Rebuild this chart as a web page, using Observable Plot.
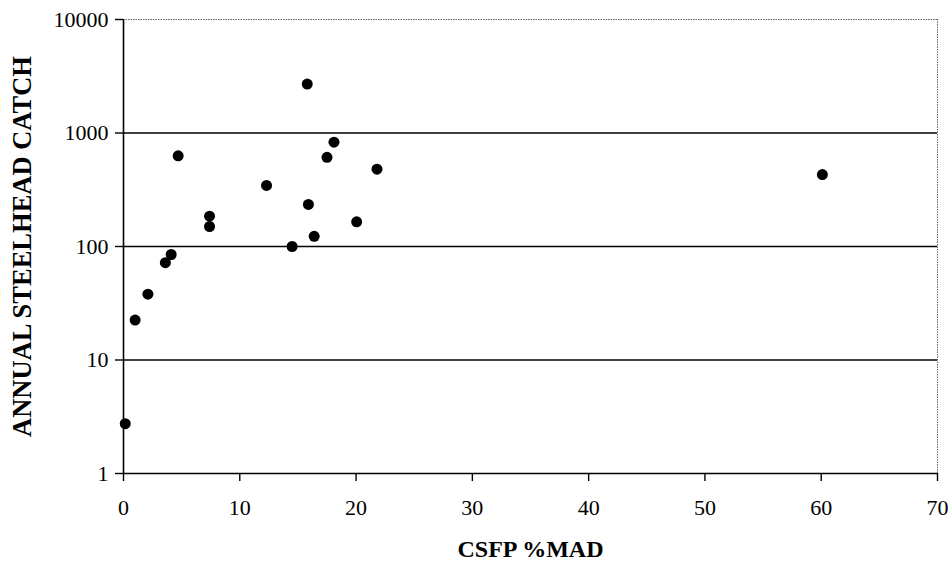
<!DOCTYPE html>
<html>
<head>
<meta charset="utf-8">
<script src="https://cdn.jsdelivr.net/npm/d3@7"></script>
<script src="https://cdn.jsdelivr.net/npm/@observablehq/plot@0.6"></script>
<style>
  html, body { margin: 0; padding: 0; background: #fff; }
  #chart svg { display: block; }
</style>
</head>
<body>
<div id="chart"></div>
<script>
// Data
const csfpMAD = [0.15, 1.0, 2.1, 3.6, 4.1, 4.7, 7.4, 7.4, 12.3, 14.5, 15.8, 15.9, 16.4, 17.5, 18.1, 20.05, 21.8, 60.1];
const steelheadCatch = [2.75, 22.5, 38, 72, 85, 630, 185, 150, 345, 100, 2700, 235, 123, 610, 830, 165, 480, 430];
const xTicks = [0, 10, 20, 30, 40, 50, 60, 70];
const yTicks = [1, 10, 100, 1000, 10000];
const gridValues = [10, 100, 1000];
const xTitle = "CSFP %MAD";
const yTitle = "ANNUAL STEELHEAD CATCH";

const data = csfpMAD.map((x, i) => ({x, y: steelheadCatch[i]}));

const font = "'Liberation Serif', 'DejaVu Serif', serif";

const chart = Plot.plot({
  width: 951,
  height: 570,
  marginTop: 19,
  marginBottom: 97,
  marginLeft: 123,
  marginRight: 14,
  style: {fontFamily: font, fontSize: "22px", color: "#000", background: "#fff"},
  x: {domain: [0, 70]},
  y: {type: "log", domain: [1, 10000]},
  marks: [
    Plot.ruleY(gridValues, {stroke: "#000", strokeWidth: 1.4}),
    Plot.ruleY([10000], {stroke: "#666", strokeWidth: 1, strokeDasharray: "1.5,1"}),
    Plot.ruleX([70], {stroke: "#666", strokeWidth: 1, strokeDasharray: "1.5,1"}),
    Plot.ruleX([0], {stroke: "#000", strokeWidth: 1.6}),
    Plot.ruleY([1], {stroke: "#000", strokeWidth: 1.6}),
    Plot.axisX({ticks: xTicks, tickSize: 8, tickPadding: 18, tickFormat: d => String(d), label: null, stroke: "#000", strokeWidth: 1.4, fontSize: 22}),
    Plot.axisY({ticks: yTicks, tickSize: 8, tickPadding: 7, tickFormat: d => String(d), label: null, stroke: "#000", strokeWidth: 1.4, fontSize: 22}),
    Plot.dot(data, {x: "x", y: "y", r: 5.5, fill: "#000", stroke: "none"}),
    Plot.text([xTitle], {frameAnchor: "bottom", dy: 76, textAnchor: "middle", lineAnchor: "middle", fontWeight: "bold", fontSize: 24}),
    Plot.text([yTitle], {frameAnchor: "left", dx: -101, rotate: -90, textAnchor: "middle", lineAnchor: "middle", fontWeight: "bold", fontSize: 26.5})
  ]
});

document.getElementById("chart").appendChild(chart);
</script>
</body>
</html>
